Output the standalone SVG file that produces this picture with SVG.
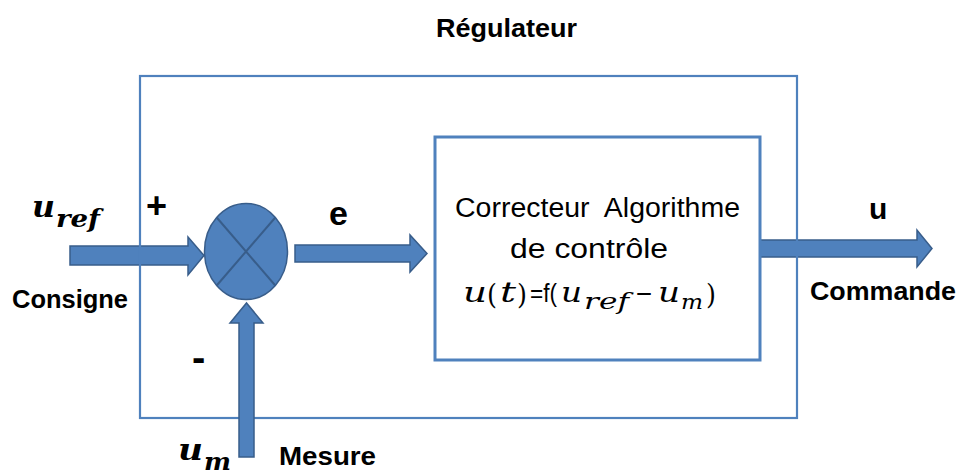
<svg xmlns="http://www.w3.org/2000/svg" width="961" height="476" viewBox="0 0 961 476">
  <style>
    .frame { fill: none; stroke: #4f81bd; }
    .block { fill: #4f81bd; stroke: #385d8a; stroke-width: 1.5; stroke-linejoin: miter; }
    .cross { stroke: #385d8a; stroke-width: 2; }
    .lbl { font-family: "Liberation Sans", Arial, sans-serif; font-weight: bold; fill: #000; }
    .txt { font-family: "Liberation Sans", Arial, sans-serif; fill: #000; }
    .math { font-family: "DejaVu Serif", "Liberation Serif", serif; font-style: italic; fill: #000; }
    .up { font-family: "DejaVu Serif", "Liberation Serif", serif; font-style: normal; fill: #000; }
    .mathb { font-family: "DejaVu Serif", "Liberation Serif", serif; font-style: italic; font-weight: bold; fill: #000; }
  </style>

  <rect width="961" height="476" fill="#ffffff"/>

  <!-- horizontal signal arrows (under the frame lines) -->
  <g id="connectors">
    <polygon id="arrow-consigne" class="block" points="70,246 188,246 188,237 204,255.5 188,275 188,265 70,265"/>
    <polygon id="arrow-e" class="block" points="295,245 410,245 410,235 427,253.5 410,272 410,262 295,262"/>
    <polygon id="arrow-commande" class="block" points="760,240 917,240 917,230 932,248.5 917,267 917,257 760,257"/>
  </g>

  <!-- regulator frame -->
  <g id="regulateur">
    <rect class="frame" x="140" y="76" width="657" height="342" stroke-width="2.2"/>
    <text class="lbl" x="436" y="37" font-size="26" textLength="141" lengthAdjust="spacingAndGlyphs">Régulateur</text>
  </g>

  <!-- measurement feedback arrow -->
  <g id="connector-mesure">
    <polygon id="arrow-mesure" class="block" points="239,457 239,323 230,323 246.5,303 263,323 254,323 254,457"/>
  </g>

  <!-- summing junction -->
  <g id="comparateur">
    <ellipse class="block" cx="246" cy="251.5" rx="41.5" ry="48" stroke-width="2"/>
    <line class="cross" x1="216.7" y1="217.5" x2="275.3" y2="285.5"/>
    <line class="cross" x1="275.3" y1="217.5" x2="216.7" y2="285.5"/>
  </g>

  <!-- controller block -->
  <g id="correcteur">
    <rect class="frame" x="435" y="137" width="325" height="223" stroke-width="3"/>
    <text class="txt" x="455" y="217" font-size="27" textLength="285" lengthAdjust="spacingAndGlyphs" xml:space="preserve">Correcteur  Algorithme</text>
    <text class="txt" x="510" y="258" font-size="27" textLength="158" lengthAdjust="spacingAndGlyphs">de contrôle</text>
    <!-- control law u(t)=f(uref − um) -->
    <text class="math" x="463" y="302" font-size="27" textLength="24" lengthAdjust="spacingAndGlyphs">u</text>
    <text class="up" x="487" y="304" font-size="28" textLength="10" lengthAdjust="spacingAndGlyphs">(</text>
    <text class="math" x="500" y="302" font-size="27" textLength="16" lengthAdjust="spacingAndGlyphs">t</text>
    <text class="up" x="517" y="304" font-size="28" textLength="10" lengthAdjust="spacingAndGlyphs">)</text>
    <text class="txt" x="530" y="302" font-size="26" textLength="27" lengthAdjust="spacingAndGlyphs">=f(</text>
    <text class="math" x="561" y="302" font-size="27" textLength="21" lengthAdjust="spacingAndGlyphs">u</text>
    <text class="math" x="584" y="309" font-size="22" textLength="45" lengthAdjust="spacingAndGlyphs">ref</text>
    <text class="up" x="635" y="302" font-size="26" textLength="18" lengthAdjust="spacingAndGlyphs">−</text>
    <text class="math" x="658" y="302" font-size="27" textLength="22" lengthAdjust="spacingAndGlyphs">u</text>
    <text class="math" x="681" y="309" font-size="21" textLength="22" lengthAdjust="spacingAndGlyphs">m</text>
    <text class="up" x="706" y="304" font-size="28" textLength="10" lengthAdjust="spacingAndGlyphs">)</text>
  </g>

  <!-- signal labels -->
  <g id="label-consigne">
    <text class="mathb" x="32" y="217" font-size="29" textLength="23" lengthAdjust="spacingAndGlyphs">u</text>
    <text class="mathb" x="56" y="227" font-size="25" textLength="44" lengthAdjust="spacingAndGlyphs">ref</text>
    <text class="lbl" x="12" y="308" font-size="25" textLength="116" lengthAdjust="spacingAndGlyphs">Consigne</text>
    <text class="lbl" x="146" y="218" font-size="36">+</text>
  </g>

  <g id="label-e">
    <text class="lbl" x="329" y="225" font-size="34">e</text>
  </g>

  <g id="label-commande">
    <text class="lbl" x="869" y="219" font-size="30">u</text>
    <text class="lbl" x="810" y="300" font-size="25" textLength="146" lengthAdjust="spacingAndGlyphs">Commande</text>
  </g>

  <g id="label-mesure">
    <text class="lbl" x="192" y="371" font-size="40">-</text>
    <text class="mathb" x="178" y="460" font-size="29" textLength="25" lengthAdjust="spacingAndGlyphs">u</text>
    <text class="mathb" x="204" y="470" font-size="24" textLength="27" lengthAdjust="spacingAndGlyphs">m</text>
    <text class="lbl" x="279" y="465" font-size="26" textLength="97" lengthAdjust="spacingAndGlyphs">Mesure</text>
  </g>
</svg>
